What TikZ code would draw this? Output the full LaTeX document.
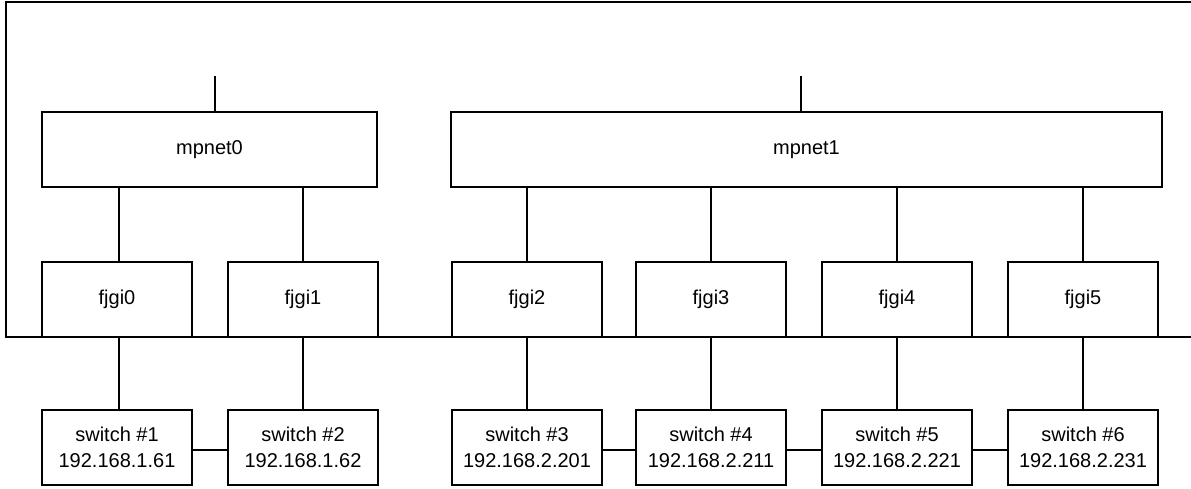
\documentclass[tikz,border=0pt]{standalone}
\usepackage{fontspec}
\setmainfont{Liberation Sans}
\begin{document}
\begin{tikzpicture}[x=1pt,y=-1pt,
  box/.style={draw,line width=1.8pt,fill=white,minimum height=75pt,inner sep=0pt,align=center,font=\fontsize{20}{26}\selectfont},
  nic/.style={box,minimum width=150pt},
  ln/.style={line width=1.8pt}]
\useasboundingbox (0,0) rectangle (1191,488);
% frame and bus
\coordinate (tr) at (1191,2);
\coordinate (tl) at (6,2);
\coordinate (bl) at (6,337);
\coordinate (br) at (1191,337);
\draw[ln] (tr) -- (tl) -- (bl) -- (br);
% mpnet
\node[box,minimum width=335pt] (mp0) at (209.5,149.5) {mpnet0};
\node[box,minimum width=711pt] (mp1) at (806.5,149.5) {mpnet1};
\coordinate (s0) at (215,76);
\coordinate (s1) at (801,76);
\draw[ln] (s0) -- (s0 |- mp0.north);
\draw[ln] (s1) -- (s1 |- mp1.north);
% fjgi
\node[nic] (f0) at (117,299.5) {fjgi0};
\node[nic] (f1) at (303,299.5) {fjgi1};
\node[nic] (f2) at (527,299.5) {fjgi2};
\node[nic] (f3) at (711,299.5) {fjgi3};
\node[nic] (f4) at (897,299.5) {fjgi4};
\node[nic] (f5) at (1083,299.5) {fjgi5};
% switches
\node[nic] (w1) at (117,447.5) {switch \#1\\192.168.1.61};
\node[nic] (w2) at (303,447.5) {switch \#2\\192.168.1.62};
\node[nic] (w3) at (527,447.5) {switch \#3\\192.168.2.201};
\node[nic] (w4) at (711,447.5) {switch \#4\\192.168.2.211};
\node[nic] (w5) at (897,447.5) {switch \#5\\192.168.2.221};
\node[nic] (w6) at (1083,447.5) {switch \#6\\192.168.2.231};
% bus redrawn over box bottoms
\draw[ln] (bl) -- (br);
% mpnet to fjgi
\draw[ln] (mp0.south -| 119,0) -- (f0.north -| 119,0);
\draw[ln] (mp0.south -| f1.north) -- (f1.north);
\draw[ln] (mp1.south -| f2.north) -- (f2.north);
\draw[ln] (mp1.south -| f3.north) -- (f3.north);
\draw[ln] (mp1.south -| f4.north) -- (f4.north);
\draw[ln] (mp1.south -| f5.north) -- (f5.north);
% fjgi to switch
\draw[ln] (f0.south -| 119,0) -- (w1.north -| 119,0);
\draw[ln] (f1.south) -- (w2.north);
\draw[ln] (f2.south) -- (w3.north);
\draw[ln] (f3.south) -- (w4.north);
\draw[ln] (f4.south) -- (w5.north);
\draw[ln] (f5.south) -- (w6.north);
% switch chain
\draw[ln] ([yshift=-2.5pt]w1.east) -- ([yshift=-2.5pt]w2.west);
\draw[ln] ([yshift=-2.5pt]w3.east) -- ([yshift=-2.5pt]w4.west);
\draw[ln] ([yshift=-2.5pt]w4.east) -- ([yshift=-2.5pt]w5.west);
\draw[ln] ([yshift=-2.5pt]w5.east) -- ([yshift=-2.5pt]w6.west);
\end{tikzpicture}
\end{document}
